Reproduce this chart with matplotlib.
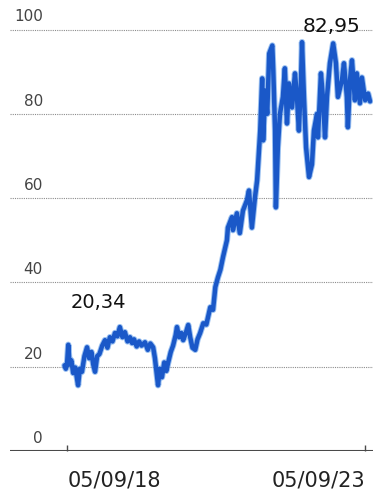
import matplotlib
matplotlib.use("Agg")
import matplotlib.pyplot as plt
import matplotlib.transforms as mtransforms
import pandas as pd

# ---- data ----
dates = [
    "2018-08-20", "2018-08-28", "2018-09-05", "2018-09-12", "2018-09-20", "2018-10-01",
    "2018-10-12", "2018-10-25", "2018-11-11", "2018-11-22", "2018-12-05", "2018-12-20",
    "2019-01-05", "2019-01-18", "2019-02-01", "2019-02-12", "2019-02-23", "2019-03-08",
    "2019-03-22", "2019-04-08", "2019-04-25", "2019-05-10", "2019-05-25", "2019-06-10",
    "2019-06-25", "2019-07-10", "2019-07-25", "2019-08-10", "2019-08-25", "2019-09-10",
    "2019-09-25", "2019-10-08", "2019-10-20", "2019-11-05", "2019-11-20", "2019-12-05",
    "2019-12-26", "2020-01-12", "2020-01-28", "2020-02-14", "2020-02-25", "2020-03-08",
    "2020-03-15", "2020-03-25", "2020-04-08", "2020-04-22", "2020-05-05", "2020-05-15",
    "2020-06-01", "2020-06-15", "2020-07-01", "2020-07-09", "2020-07-22", "2020-08-05",
    "2020-08-16", "2020-09-01", "2020-09-16", "2020-09-28", "2020-10-12", "2020-10-29",
    "2020-11-12", "2020-11-28", "2020-12-17", "2021-01-05", "2021-01-29", "2021-02-15",
    "2021-03-01", "2021-03-17", "2021-04-01", "2021-04-17", "2021-05-11", "2021-05-17",
    "2021-06-11", "2021-06-17", "2021-07-11", "2021-07-29", "2021-08-17", "2021-09-11",
    "2021-09-23", "2021-10-11", "2021-10-30", "2021-11-12", "2021-12-01", "2021-12-13",
    "2021-12-19", "2022-01-01", "2022-01-13", "2022-01-25", "2022-02-13", "2022-02-19",
    "2022-03-02", "2022-03-07", "2022-03-19", "2022-04-01", "2022-04-19", "2022-05-01",
    "2022-05-14", "2022-05-26", "2022-06-14", "2022-07-02", "2022-07-14", "2022-07-26",
    "2022-08-08", "2022-08-14", "2022-08-26", "2022-09-08", "2022-09-26", "2022-10-14",
    "2022-10-26", "2022-11-14", "2022-11-20", "2022-12-08", "2022-12-20", "2023-01-02",
    "2023-01-14", "2023-02-01", "2023-02-21", "2023-03-10", "2023-03-22", "2023-04-16",
    "2023-04-28", "2023-05-16", "2023-05-22", "2023-06-04", "2023-06-16", "2023-07-04",
    "2023-07-16", "2023-08-04", "2023-08-16", "2023-09-05", "2023-09-23", "2023-10-05",
]
values = [
    20.3, 19.5, 21.0, 25.2, 20.5, 21.5,
    18.5, 19.8, 15.6, 19.5, 18.8, 22.5,
    24.6, 22.0, 23.5, 20.5, 18.8, 22.5,
    23.0, 25.0, 26.3, 24.5, 27.0, 26.0,
    28.0, 27.2, 29.4, 27.0, 28.2, 26.0,
    27.0, 25.6, 26.5, 24.8, 26.0, 25.0,
    25.8, 24.0, 25.5, 24.6, 22.0, 18.0,
    15.6, 19.5, 17.5, 21.0, 19.0, 20.8,
    23.5, 25.0, 27.5, 29.4, 27.0, 28.0,
    26.3, 28.0, 29.9, 27.0, 24.5, 24.0,
    26.5, 28.0, 30.3, 30.0, 34.1, 33.5,
    38.9, 41.2, 43.0, 46.0, 50.0, 53.0,
    55.5, 52.4, 56.4, 51.7, 57.0, 59.5,
    61.8, 53.0, 60.2, 64.2, 76.0, 88.4,
    73.7, 85.5, 80.0, 94.3, 96.2, 90.3,
    76.0, 57.8, 72.0, 80.0, 84.0, 90.8,
    77.7, 87.2, 81.5, 89.6, 84.0, 76.0,
    88.0, 97.0, 84.0, 72.0, 65.0, 68.0,
    76.0, 80.0, 74.4, 89.6, 84.0, 74.4,
    84.0, 92.0, 96.7, 92.0, 84.0, 88.0,
    92.0, 84.0, 76.8, 88.0, 92.7, 83.2,
    89.6, 82.5, 88.6, 83.2, 84.8, 82.95,
]
y_ticks = [0, 20, 40, 60, 80, 100]
x_tick_dates = ["2018-09-05", "2023-09-05"]
x_tick_labels = ["05/09/18", "05/09/23"]
first_label = "20,34"
last_label = "82,95"

# ---- figure ----
W, H = 373, 499
fig = plt.figure(figsize=(W / 100, H / 100), dpi=100)
ax = fig.add_axes([10 / W, 48 / H, 363 / W, 451 / H])

d = pd.to_datetime(dates)
ax.plot(d, values, color="#4a8fe6", lw=4.6, alpha=0.55, solid_joinstyle="round",
        solid_capstyle="round", zorder=3)
ax.plot(d, values, color="#1a58c8", lw=3.2, solid_joinstyle="round",
        solid_capstyle="round", zorder=4)

ax.set_ylim(0, 107)
ax.set_xlim(pd.Timestamp("2017-09-20"), pd.Timestamp("2023-10-23"))

for s in ax.spines.values():
    s.set_visible(False)

# gridlines
for v in y_ticks[1:]:
    ax.axhline(v, color="#8c8c8c", lw=0.8, ls=(0, (1, 1)), zorder=1)
ax.axhline(0, color="#4a4a4a", lw=1.5, zorder=2)

# y labels above gridlines
trans = mtransforms.blended_transform_factory(ax.transAxes, ax.transData)
for v in y_ticks:
    ax.text(33 / 363, v + 1.2, str(v), transform=trans, ha="right", va="bottom",
            fontsize=11, color="#444444")
ax.set_yticks([])

# x ticks
ax.set_xticks(pd.to_datetime(x_tick_dates))
ax.set_xticklabels(x_tick_labels, fontsize=15, color="#222222")
ax.tick_params(axis="x", direction="in", length=4, width=1, color="#4a4a4a", pad=14)
tl = ax.get_xticklabels()
tl[0].set_ha("left")
tl[-1].set_ha("right")

# value labels
ax.text(88 / 363, (451 - 303) / 451, first_label, transform=ax.transAxes,
        ha="center", va="center", fontsize=14, color="#111111")
ax.text(322 / 363, (451 - 27) / 451, last_label, transform=ax.transAxes,
        ha="center", va="center", fontsize=14.5, color="#111111")

fig.savefig("out.png", dpi=100)
